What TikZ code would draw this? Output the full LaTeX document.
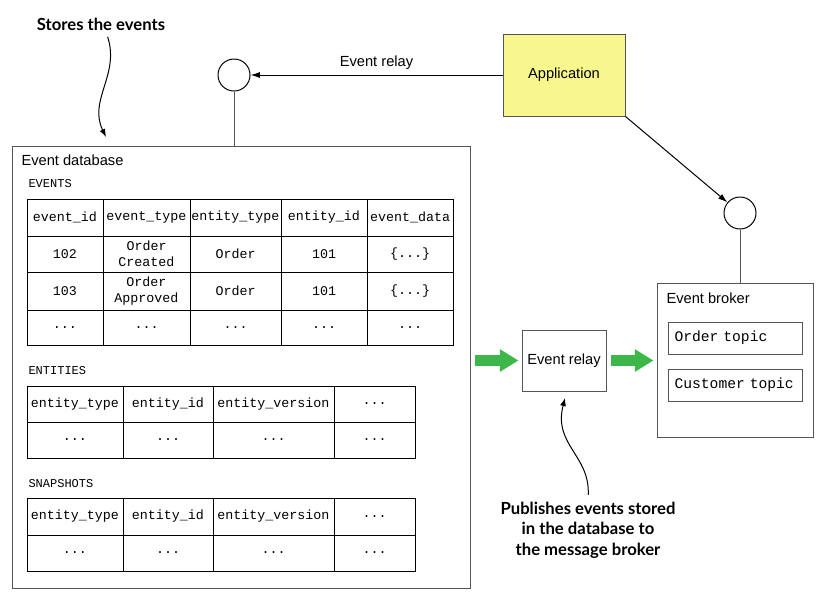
\documentclass[tikz,border=0pt]{standalone}
\usepackage{fontspec}
\setmainfont{Liberation Sans}
\newfontfamily\codefont{Liberation Mono}
\newfontfamily\notefont{Lato}
\usetikzlibrary{arrows.meta}

\tikzset{every picture/.style={line width=0.75pt}}
\tikzset{
  box/.style={draw={rgb, 255:red, 85; green, 85; blue, 85}, inner sep=0pt},
  port/.style={draw, circle, inner sep=0pt, minimum size=24pt},
  title/.style={inner sep=0.75pt, font=\fontsize{11}{13}\selectfont},
  topic/.style={box, minimum width=100.5pt, minimum height=24pt, anchor=west, text width=91.5pt, inner xsep=4.5pt, font=\codefont\fontsize{11}{13}\selectfont},
  cell/.style={inner sep=0.75pt, align=center, font=\codefont\fontsize{10}{12}\selectfont},
  tablename/.style={inner sep=0.75pt, anchor=west, font=\codefont\fontsize{9}{11}\selectfont},
  note/.style={inner sep=0.75pt, align=center, font=\notefont\bfseries\fontsize{12.5}{15.5}\selectfont},
  notearrow/.style={-{Latex[length=6pt,width=4.5pt]}},
  flow/.style={draw={rgb, 255:red, 61; green, 183; blue, 74}, line width=8pt, -{Triangle[length=14pt,width=16pt]}, shorten <=3pt, shorten >=2.25pt},
}

\begin{document}
\begin{tikzpicture}[x=0.75pt,y=0.75pt,yscale=-1,xscale=1]
    \path (0,0) rectangle (830,601); %canvas 830 x 601

    %Shape: Rectangle [Event database]
    \node [box, minimum width=343.5pt, minimum height=331.5pt] (db) at (241,367) {};
    %Shape: Rectangle [Application]
    \node [box, fill={rgb, 255:red, 248; green, 247; blue, 142}, minimum width=91.5pt, minimum height=61.5pt, font=\fontsize{11}{13}\selectfont] (app) at (564,75) {Application};
    %Shape: Circle
    \node [port] (dbport) at (234,75) {};
    %Shape: Circle
    \node [port] (brokerport) at (740,213) {};
    %Shape: Rectangle [Event broker]
    \node [box, minimum width=117pt, minimum height=115.5pt] (broker) at (735,360) {};
    %Shape: Rectangle [topics]
    \node [topic] (ordertopic) at (668,338) {Order topic};
    \node [topic] (customertopic) at (668,385) {Customer topic};
    %Shape: Rectangle [Event relay]
    \node [box, minimum width=63pt, minimum height=45.75pt, font=\fontsize{11}{13}\selectfont] (relay) at (564,360.5) {Event relay};

    %Straight Lines
    \draw [-{Latex[length=7pt,width=4.5pt]}] (app) -- (dbport) node [midway, above=3pt, title] (relaylabel) {Event relay};
    %Straight Lines
    \draw [-{Latex[length=7pt,width=4.5pt]}] (app.south east) -- (brokerport);
    %Straight Lines
    \draw [draw={rgb, 255:red, 85; green, 85; blue, 85}] (dbport) -- (dbport |- db.north);
    %Straight Lines
    \draw [draw={rgb, 255:red, 85; green, 85; blue, 85}] (brokerport) -- (brokerport |- broker.north);
    %Block Arrows
    \draw [flow] (db.east |- relay.west) -- (relay.west);
    \draw [flow] (relay.east) -- (broker.west |- relay.east);

    % Text Node
    \node [title, anchor=west] (dbtitle) at (20,160) {Event database};
    % Text Node
    \node [title, anchor=west] (brokertitle) at (665,298) {Event broker};

    %EVENTS table
    \node [tablename] (eventsname) at (27,184) {EVENTS};
    \draw (27,199) rectangle (453,345);
    \draw (27,236) -- (453,236);
    \draw (27,272) -- (453,272);
    \draw (27,310) -- (453,310);
    \draw (103,199) -- (103,345);
    \draw (190,199) -- (190,345);
    \draw (281,199) -- (281,345);
    \draw (367,199) -- (367,345);
    \node [cell] (ev11) at (65,217.5) {event\_id};
    \node [cell] (ev12) at (146.5,217.5) {event\_type};
    \node [cell] (ev13) at (235.5,217.5) {entity\_type};
    \node [cell] (ev14) at (324,217.5) {entity\_id};
    \node [cell] (ev15) at (410,217.5) {event\_data};
    \node [cell] (ev21) at (65,254) {102};
    \node [cell] (ev22) at (146.5,254) {Order\\Created};
    \node [cell] (ev23) at (235.5,254) {Order};
    \node [cell] (ev24) at (324,254) {101};
    \node [cell] (ev25) at (410,254) {\{...\}};
    \node [cell] (ev31) at (65,291) {103};
    \node [cell] (ev32) at (146.5,291) {Order\\Approved};
    \node [cell] (ev33) at (235.5,291) {Order};
    \node [cell] (ev34) at (324,291) {101};
    \node [cell] (ev35) at (410,291) {\{...\}};
    \node [cell] (ev41) at (65,327.5) {...};
    \node [cell] (ev42) at (146.5,327.5) {...};
    \node [cell] (ev43) at (235.5,327.5) {...};
    \node [cell] (ev44) at (324,327.5) {...};
    \node [cell] (ev45) at (410,327.5) {...};

    %ENTITIES table
    \node [tablename] (entitiesname) at (27,371) {ENTITIES};
    \draw (27,386) rectangle (415,458);
    \draw (27,422) -- (415,422);
    \draw (123,386) -- (123,458);
    \draw (213,386) -- (213,458);
    \draw (334,386) -- (334,458);
    \node [cell] (en11) at (75,404) {entity\_type};
    \node [cell] (en12) at (168,404) {entity\_id};
    \node [cell] (en13) at (273.5,404) {entity\_version};
    \node [cell] (en14) at (374.5,404) {...};
    \node [cell] (en21) at (75,440) {...};
    \node [cell] (en22) at (168,440) {...};
    \node [cell] (en23) at (273.5,440) {...};
    \node [cell] (en24) at (374.5,440) {...};

    %SNAPSHOTS table
    \node [tablename] (snapshotsname) at (27,484) {SNAPSHOTS};
    \draw (27,498) rectangle (415,571);
    \draw (27,535) -- (415,535);
    \draw (123,498) -- (123,571);
    \draw (213,498) -- (213,571);
    \draw (334,498) -- (334,571);
    \node [cell] (sn11) at (75,516.5) {entity\_type};
    \node [cell] (sn12) at (168,516.5) {entity\_id};
    \node [cell] (sn13) at (273.5,516.5) {entity\_version};
    \node [cell] (sn14) at (374.5,516.5) {...};
    \node [cell] (sn21) at (75,553) {...};
    \node [cell] (sn22) at (168,553) {...};
    \node [cell] (sn23) at (273.5,553) {...};
    \node [cell] (sn24) at (374.5,553) {...};

    % Annotations
    \node [note] (stores) at (101,24) {Stores the events};
    \coordinate (storestip) at (106,137);
    \draw [notearrow, shorten <=4pt] (stores.south -| storestip) .. controls (120,75) and (88,100) .. (storestip);
    \node [note] (publishes) at (588,530) {Publishes events stored\\in the database to\\the message broker};
    \coordinate (relaytip) at (565,398);
    \draw [notearrow, shorten <=4pt] (publishes.north) .. controls (590,455) and (553,445) .. (relaytip);

\end{tikzpicture}
\end{document}
